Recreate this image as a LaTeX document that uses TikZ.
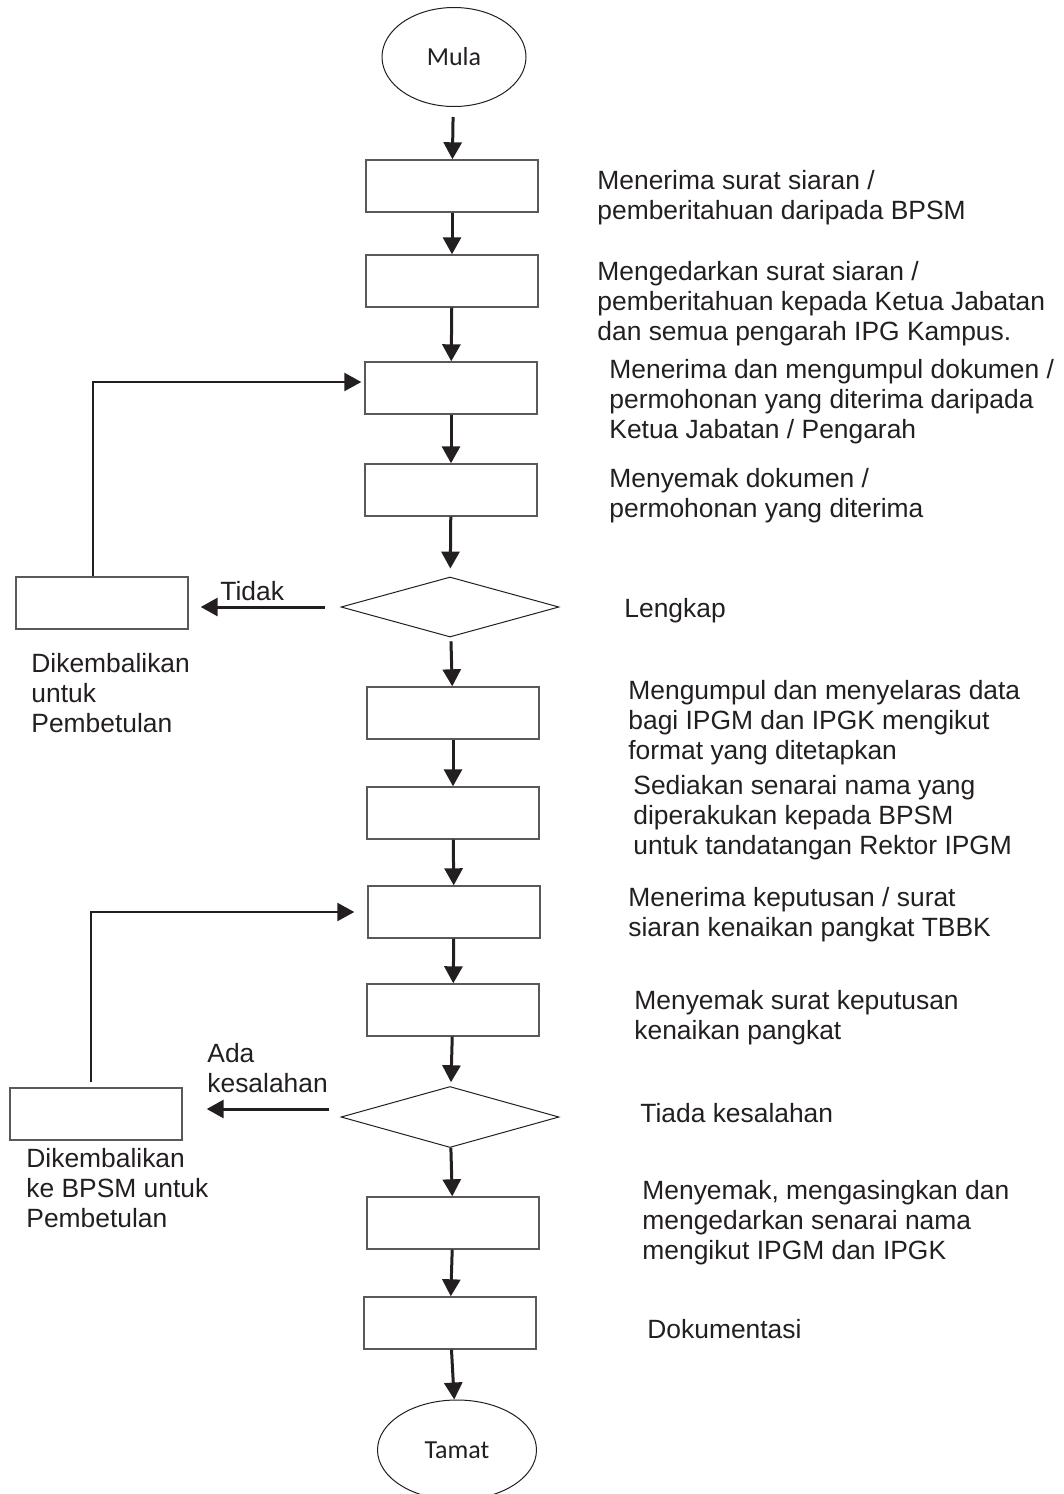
\documentclass[tikz,border=0pt]{standalone}
\usepackage{fontspec}
\setmainfont{Liberation Sans}
\newfontfamily\termfont{Carlito}
\usepackage{xcolor}
\usetikzlibrary{arrows.meta,shapes.geometric}
\definecolor{ink}{HTML}{231F20}
\tikzset{
  fcterm/.style={ellipse, draw=ink, line width=0.5pt, inner sep=0pt,
                 text=ink, font=\termfont\fontsize{13}{15}\selectfont},
  fcbox/.style={rectangle, draw=black!65, line width=0.7pt,
                minimum width=86pt, minimum height=26pt, inner sep=0pt},
  fcdec/.style={diamond, draw=ink, line width=0.5pt,
                minimum width=109pt, minimum height=30pt, inner sep=0pt},
  fcarr/.style={draw=ink, line width=1.5pt, -{Triangle[length=8.5pt,width=9pt]}},
  fcret/.style={draw=ink, line width=1.2pt, -{Triangle[length=8.5pt,width=9pt]}},
  fclab/.style={anchor=base west, align=left, inner sep=0pt, text=ink,
                font=\fontsize{13.2}{15}\selectfont}
}

\begin{document}
\begin{tikzpicture}[x=0.5pt, y=-0.5pt]
  \useasboundingbox (0,0) rectangle (1064,1494);
  % main column
  \node[fcterm, minimum width=72pt, minimum height=49.5pt] (mula) at (454,57) {Mula};
  \node[fcbox] (b1) at (452,186) {};
  \node[fcbox] (b2) at (452,281) {};
  \node[fcbox] (b3) at (451,388) {};
  \node[fcbox] (b4) at (451,490) {};
  \node[fcdec] (d1) at (450,607) {};
  \node[fcbox] (b5) at (453,713) {};
  \node[fcbox] (b6) at (453,813) {};
  \node[fcbox] (b7) at (454,912) {};
  \node[fcbox] (b8) at (453,1010) {};
  \node[fcdec, minimum height=30.5pt] (d2) at (450,1117) {};
  \node[fcbox] (b9) at (453,1223) {};
  \node[fcbox] (b10) at (450,1323) {};
  \node[fcterm, minimum width=79.5pt, minimum height=50pt] (tamat) at (457,1450) {Tamat};
  % return boxes
  \node[fcbox] (r1) at (102,603) {};
  \node[fcbox] (r2) at (96,1114) {};

  \draw[fcarr, shorten <=5pt] (mula) -- (b1);
  \draw[fcarr] (b1) -- (b2);
  \draw[fcarr] (b2) -- (b3);
  \draw[fcarr] (b3) -- (b4);
  \draw[fcarr, shorten >=4pt] (b4) -- (d1);
  \draw[fcarr, shorten <=2pt] (d1) -- (b5);
  \draw[fcarr] (b5) -- (b6);
  \draw[fcarr] (b6) -- (b7);
  \draw[fcarr] (b7) -- (b8);
  \draw[fcarr, shorten >=2pt] (b8) -- (d2);
  \draw[fcarr] (d2) -- (b9);
  \draw[fcarr] (b9) -- (b10);
  \draw[fcarr] (b10) -- (tamat);

  \draw[fcarr, shorten <=8pt, shorten >=6pt] (d1.west) -- (d1.west -| r1.east);
  \draw[fcarr, shorten <=6pt, shorten >=12pt] ([yshift=4pt]d2.west) -- ([yshift=4pt]d2.west -| r2.east);
  \draw[fcret, shorten >=1.5pt] ([xshift=-4.5pt]r1.north) |- ([yshift=3pt]b3.west);
  \draw[fcret, shorten <=2.5pt, shorten >=6.5pt] ([xshift=-2.5pt]r2.north) |- (b7.west);

  % labels (at the baseline of the last line)
  \node[fclab] (tidak) at (220,600) {Tidak};
  \node[fclab] (ada) at (207,1092) {Ada\\kesalahan};
  \node[fclab] (k1) at (31,732) {Dikembalikan\\untuk\\Pembetulan};
  \node[fclab] (k2) at (26,1227) {Dikembalikan\\ke BPSM untuk\\Pembetulan};

  \node[fclab] (t1) at (597,219) {Menerima surat siaran /\\pemberitahuan daripada BPSM};
  \node[fclab] (t2) at (597,340) {Mengedarkan surat siaran /\\pemberitahuan kepada Ketua Jabatan\\dan semua pengarah IPG Kampus.};
  \node[fclab] (t3) at (609,438) {Menerima dan mengumpul dokumen /\\permohonan yang diterima daripada\\Ketua Jabatan / Pengarah};
  \node[fclab] (t4) at (609,517) {Menyemak dokumen /\\permohonan yang diterima};
  \node[fclab] (t5) at (624,617) {Lengkap};
  \node[fclab] (t6) at (628,759) {Mengumpul dan menyelaras data\\bagi IPGM dan IPGK mengikut\\format yang ditetapkan};
  \node[fclab] (t7) at (633,854) {Sediakan senarai nama yang\\diperakukan kepada BPSM\\untuk tandatangan Rektor IPGM};
  \node[fclab] (t8) at (628,936) {Menerima keputusan / surat\\siaran kenaikan pangkat TBBK};
  \node[fclab] (t9) at (634,1039) {Menyemak surat keputusan\\kenaikan pangkat};
  \node[fclab] (t10) at (640,1122) {Tiada kesalahan};
  \node[fclab] (t11) at (642,1259) {Menyemak, mengasingkan dan\\mengedarkan senarai nama\\mengikut IPGM dan IPGK};
  \node[fclab] (t12) at (647,1338) {Dokumentasi};
\end{tikzpicture}
\end{document}
